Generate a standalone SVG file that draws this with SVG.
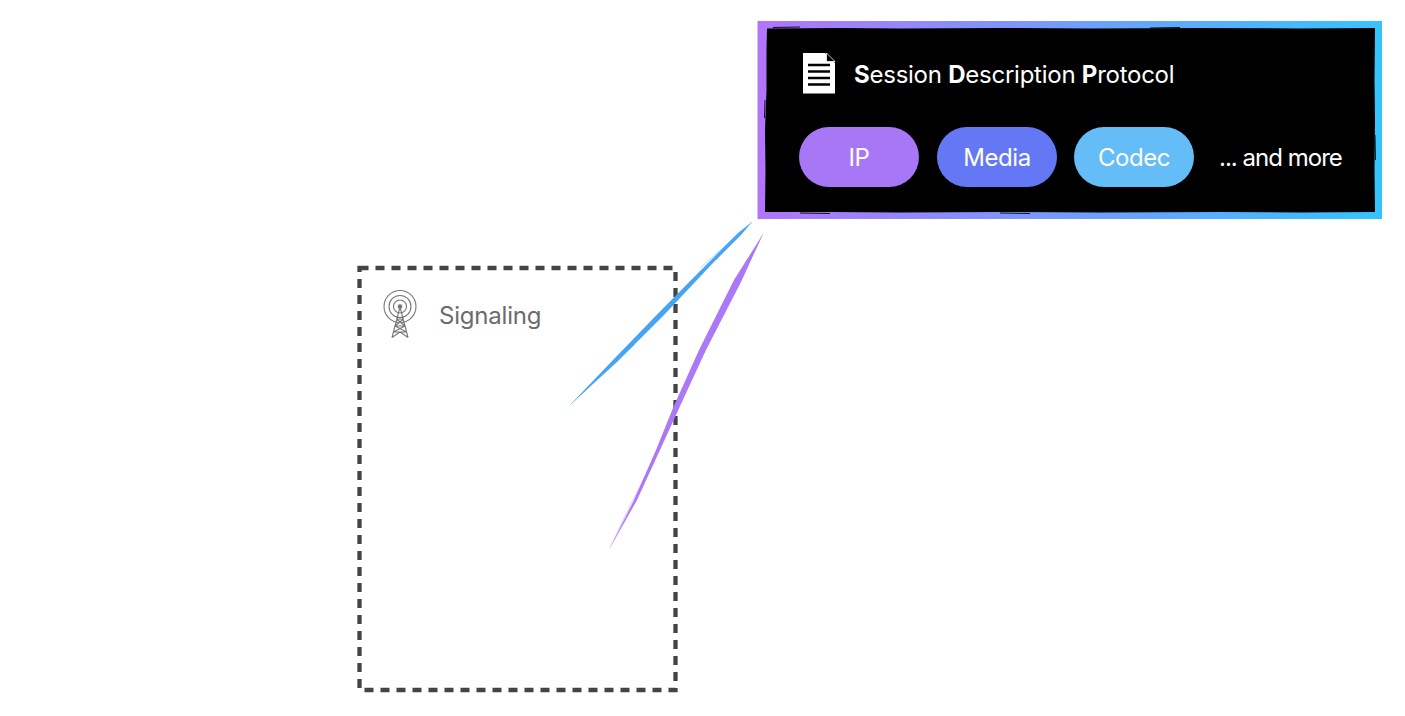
<svg xmlns="http://www.w3.org/2000/svg" width="1405" height="716" viewBox="0 0 1405 716">
<style>
text{font-family:"Inter","Liberation Sans",sans-serif;font-size:24px;fill:#fff}
.title{letter-spacing:-.25px}
.more{letter-spacing:-.98px}
.pill-label{text-anchor:middle;letter-spacing:-.45px}
.b{font-weight:700}
.sig{fill:#6b6b6b;letter-spacing:-.2px}
.tower{fill:none;stroke:#777;stroke-width:1.1}
.scratch{fill:none;stroke:#000;stroke-width:.9}
.wisp{fill:none;stroke-width:.7;opacity:.55}
</style>
<defs>
<linearGradient id="frame" x1="0" y1="0" x2="1" y2="0">
<stop offset="0" stop-color="#b175fb"/>
<stop offset="1" stop-color="#35c4ff"/>
</linearGradient>
</defs>
<rect width="1405" height="716" fill="#fff"/>
<g id="signaling">
<rect x="359.500" y="268" width="316" height="422" fill="none" stroke="#444" stroke-width="4.300" stroke-dasharray="9 7"/>
<g id="tower-icon" class="tower">
<circle cx="400" cy="306.500" r="16"/>
<circle cx="400" cy="306.500" r="11"/>
<circle cx="400" cy="306.500" r="6.500"/>
<circle cx="400" cy="306.500" r="1.800" fill="#777"/>
<path d="M400 307L392 337.500M400 307L408 337.500M396.500 319H403.500M395 326H405M393.500 332H406.500M396.500 319L405 326L393.500 332M403.500 319L395 326L406.500 332M392 337.500L400 332L408 337.500"/>
</g>
<text class="sig" x="439" y="324">Signaling</text>
</g>
<g id="connectors">
<path d="M570 405L613 360L660 311.500L708 263L738 233L752 222L741 235L712 264L664 315L617 362Z" fill="#47a3f3"/>
<path class="wisp" stroke="#47a3f3" d="M570 405L600 376L635 344M752 222L725 246L700 268"/>
<path d="M610 548L634 500L656 450L673 408L699 350L734 280L763 234L741 282L706 350L681 404L660 450L637 500Z" fill="#ab78f7"/>
<path class="wisp" stroke="#ab78f7" d="M610 548L625 516L645 476M763 234L752 256L738 286"/>
</g>
<g id="sdp">
<rect x="757.500" y="21" width="624.500" height="198" fill="url(#frame)"/>
<path d="M767 28.500L840 28L900 28.500L1000 28L1090 28.500L1200 28L1300 28.500L1375 28L1374.500 80L1375 120L1374.500 170L1375 212L1300 212.500L1220 212L1100 212.500L1000 212L900 212.500L830 212L765 212L765.500 170L765 130L766.500 90L766.500 50Z" fill="#000"/>
<path class="scratch" d="M773 27.500L800 27M1150 28L1180 27.500M765 100L764.500 118M1375 135L1375.500 160M800 213L830 213.500M1000 213L1030 213.500"/>
<g id="doc-icon">
<path d="M803 53H825L835 63V93.500H803Z" fill="#fff"/>
<path d="M826.500 53L835 61.500H826.500Z" fill="#000" stroke="#fff" stroke-width=".8"/>
<path d="M808 65H830M808 71.500H830M808 78H830M808 84.500H830" stroke="#000" stroke-width="2.600"/>
</g>
<text class="title" x="854" y="83"><tspan class="b">S</tspan>ession <tspan class="b">D</tspan>escription <tspan class="b">P</tspan>rotocol</text>
<g id="pill-ip">
<rect x="799" y="127" width="120" height="60" rx="30" fill="#a777f5"/>
<text class="pill-label" x="859" y="166">IP</text>
</g>
<g id="pill-media">
<rect x="937" y="127" width="120" height="60" rx="30" fill="#6478f6"/>
<text class="pill-label" x="997" y="166">Media</text>
</g>
<g id="pill-codec">
<rect x="1074" y="127" width="120" height="60" rx="30" fill="#64bdf6"/>
<text class="pill-label" x="1134" y="166">Codec</text>
</g>
<text class="more" x="1219" y="166">... and more</text>
</g>
</svg>
